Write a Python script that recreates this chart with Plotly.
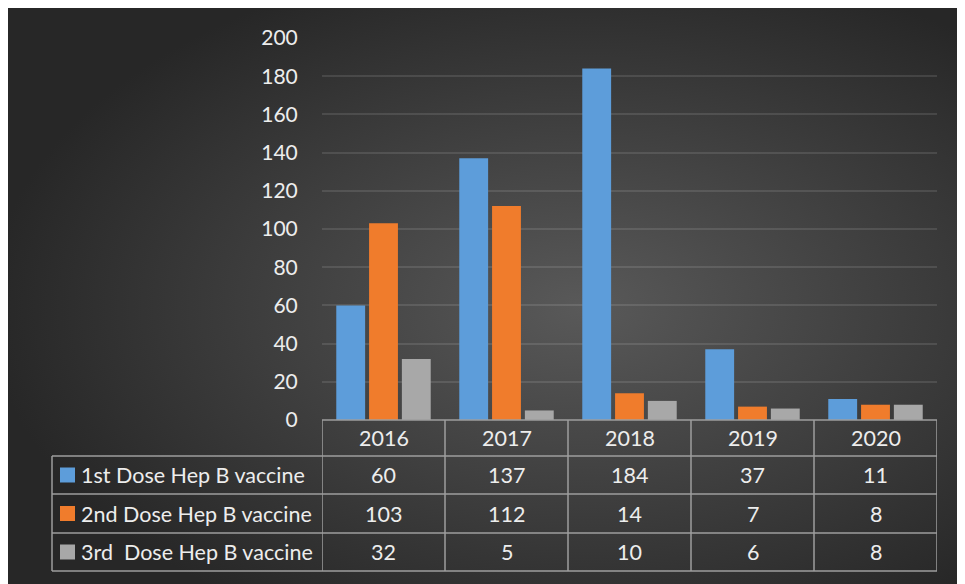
"""Hep B vaccine doses by year, Excel-style column chart with a data table."""

import base64

import plotly.graph_objects as go

years = ["2016", "2017", "2018", "2019", "2020"]
series_names = [
    "1st Dose Hep B vaccine",
    "2nd Dose Hep B vaccine",
    "3rd\u00a0 Dose Hep B vaccine",
]
dose1 = [60, 137, 184, 37, 11]
dose2 = [103, 112, 14, 7, 8]
dose3 = [32, 5, 10, 6, 8]
y_ticks = list(range(0, 201, 20))

colors = ["#5d9dda", "#f07c2c", "#a8a8a8"]
text_color = "#ededed"
line_color = "#9e9e9e"
font_family = "Lato, 'Open Sans', sans-serif"

# page has an 8px body margin, the figure fills the rest of the window
OFF = 8
W, H = 965 - OFF, 584 - OFF
PLOT_L, PLOT_R, PLOT_T, PLOT_B = 322 - OFF, 937 - OFF, 38 - OFF, 420 - OFF


def px_x(px):
    """Page pixel x -> paper fraction."""
    return (px - OFF - PLOT_L) / (PLOT_R - PLOT_L)


def px_y(py):
    """Page pixel y -> paper fraction."""
    return (PLOT_B - (py - OFF)) / (PLOT_B - PLOT_T)


# radial background like Excel's dark style
svg = (
    f'<svg xmlns="http://www.w3.org/2000/svg" width="{W}" height="{H}" '
    'preserveAspectRatio="none">'
    '<defs><radialGradient id="g" cx="0.6" cy="0.52" r="0.62">'
    '<stop offset="0" stop-color="#595959"/>'
    '<stop offset="1" stop-color="#272727"/>'
    "</radialGradient></defs>"
    f'<rect width="{W}" height="{H}" fill="url(#g)"/></svg>'
)
bg_uri = "data:image/svg+xml;base64," + base64.b64encode(svg.encode()).decode()

fig = go.Figure()
for name, vals, col in zip(series_names, [dose1, dose2, dose3], colors):
    fig.add_trace(go.Bar(x=years, y=vals, name=name, marker=dict(color=col, line=dict(width=0))))

# --- data table ---
row_edges = [420, 456, 494, 533, 571]
shapes = []
line = dict(color=line_color, width=1.5)
shapes.append(dict(type="line", xref="paper", yref="paper", x0=0, x1=1,
                   y0=px_y(row_edges[0]), y1=px_y(row_edges[0]), line=line))
for py in row_edges[1:]:
    shapes.append(dict(type="line", xref="paper", yref="paper", x0=px_x(52), x1=1,
                       y0=px_y(py), y1=px_y(py), line=line))
for i in range(len(years) + 1):
    shapes.append(dict(type="line", xref="x", yref="paper", x0=i - 0.5, x1=i - 0.5,
                       y0=px_y(row_edges[0]), y1=px_y(row_edges[-1]), line=line))
shapes.append(dict(type="line", xref="paper", yref="paper", x0=px_x(52), x1=px_x(52),
                   y0=px_y(row_edges[1]), y1=px_y(row_edges[-1]), line=line))

annotations = []
font = dict(family=font_family, size=21.5, color=text_color)
for i, yr in enumerate(years):
    annotations.append(dict(x=i, xref="x", y=px_y(438), yref="paper", text=yr,
                            xanchor="center", yanchor="middle", showarrow=False, font=font))
for r, (name, vals, col) in enumerate(zip(series_names, [dose1, dose2, dose3], colors)):
    cy = (row_edges[r + 1] + row_edges[r + 2]) / 2
    for i, v in enumerate(vals):
        annotations.append(dict(x=i, xref="x", y=px_y(cy), yref="paper", text=str(v),
                                xanchor="center", yanchor="middle", showarrow=False,
                                font=font))
    annotations.append(dict(x=px_x(79), xref="paper", y=px_y(cy), yref="paper", text=name,
                            xanchor="left", yanchor="middle", showarrow=False, font=font))
    shapes.append(dict(type="rect", xref="paper", yref="paper", x0=px_x(60), x1=px_x(75),
                       y0=px_y(cy + 7.5), y1=px_y(cy - 7.5), fillcolor=col,
                       line=dict(width=0)))

fig.update_layout(
    width=W,
    height=H,
    margin=dict(l=PLOT_L, r=W - PLOT_R, t=PLOT_T, b=H - PLOT_B),
    paper_bgcolor="#383838",
    plot_bgcolor="rgba(0,0,0,0)",
    barmode="group",
    bargap=0.2,
    bargroupgap=0.12,
    showlegend=False,
    font=dict(family=font_family, color=text_color),
    xaxis=dict(type="category", range=[-0.5, len(years) - 0.5], showticklabels=False,
               showgrid=False, zeroline=False, ticks=""),
    yaxis=dict(
        range=[0, 200],
        tickvals=y_ticks,
        tickfont=dict(size=21, color=text_color),
        showgrid=True,
        gridcolor="rgba(255,255,255,0.11)",
        gridwidth=1.5,
        zeroline=False,
        ticks="outside",
        ticklen=19,
        tickcolor="rgba(0,0,0,0)",
    ),
    shapes=shapes,
    annotations=annotations,
    images=[dict(
        source=bg_uri, xref="paper", yref="paper",
        x=px_x(OFF), y=px_y(OFF), sizex=W / (PLOT_R - PLOT_L),
        sizey=H / (PLOT_B - PLOT_T), xanchor="left", yanchor="top",
        sizing="stretch", layer="below",
    )],
)

fig.write_html("out.html")
